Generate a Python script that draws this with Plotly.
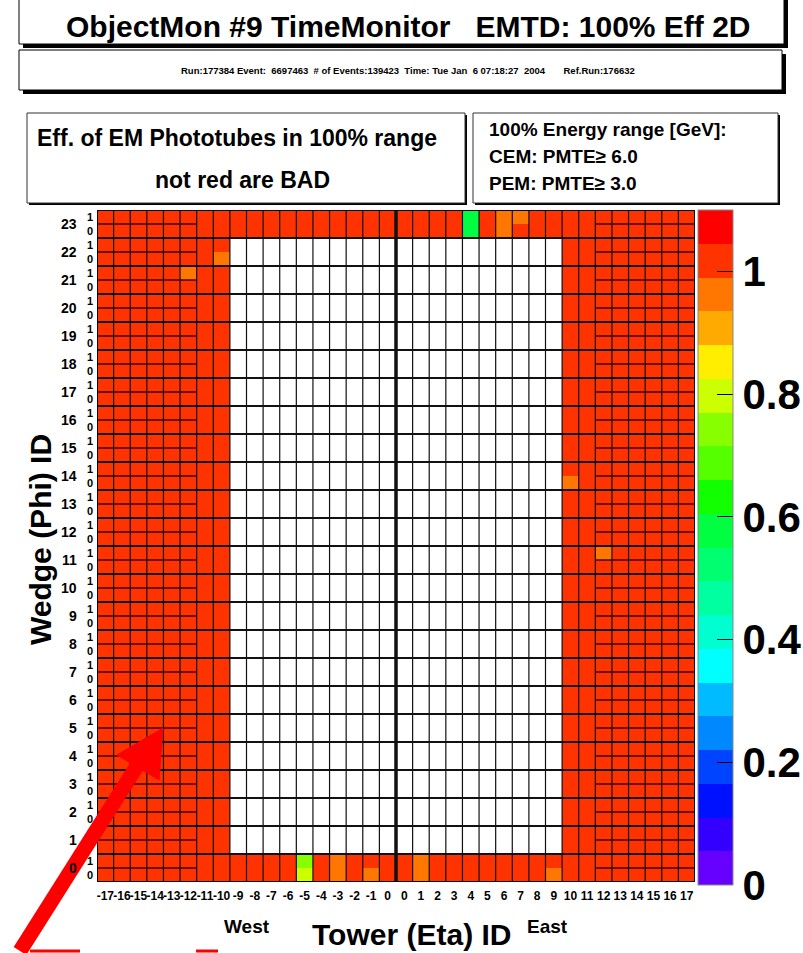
import plotly.graph_objects as go

# ---------------- data ----------------
towers_west = list(range(-17, 1))          # -17 .. 0
towers_east = list(range(0, 18))           # 0 .. 17
wedges = list(range(24))
halves = [0, 1]
plug_abs = [12, 13, 14, 15, 16, 17]        # towers with split half-rows drawn
empty_wedges = list(range(1, 23))          # wedges without central data
empty_abs = list(range(0, 10))             # |eta| 0..9 empty for those wedges
default_eff = 1.0
# (side, tower, wedge, half, efficiency)
bad_cells = [
    ("E", 4, 23, 1, 0.56), ("E", 4, 23, 0, 0.56),
    ("E", 6, 23, 1, 0.96), ("E", 6, 23, 0, 0.96),
    ("E", 7, 23, 1, 0.95),
    ("W", -10, 22, 0, 0.96),
    ("W", -12, 21, 1, 0.96),
    ("E", 10, 14, 0, 0.96),
    ("E", 12, 11, 1, 0.96),
    ("W", -5, 0, 1, 0.75), ("W", -5, 0, 0, 0.80),
    ("W", -3, 0, 1, 0.96), ("W", -3, 0, 0, 0.96),
    ("W", -1, 0, 0, 0.96),
    ("E", 1, 0, 1, 0.96), ("E", 1, 0, 0, 0.96),
    ("E", 9, 0, 0, 0.96),
]
palette = ["#6600FF", "#3300FF", "#0011FF", "#0044FF", "#0088FF", "#00BBFF",
           "#00FFFF", "#00FFD0", "#00FFA0", "#00FF70", "#00FF40", "#11FF00",
           "#55FF00", "#88FF00", "#CCFF00", "#FFEE00", "#FFAA00", "#FF7700",
           "#FF3300", "#FF0000"]
zmax = 1.1
cb_ticks = [0, 0.2, 0.4, 0.6, 0.8, 1.0]
cb_text = ["0", "0.2", "0.4", "0.6", "0.8", "1"]

# ---------------- build grid ----------------
columns = [("W", t) for t in towers_west] + [("E", t) for t in towers_east]
col_labels = [str(t) for _, t in columns]
ncol = len(columns)
rows = [(w, h) for w in wedges for h in halves]
nrow = len(rows)

z = []
for (w, h) in rows:
    line = []
    for (s, t) in columns:
        if w in empty_wedges and abs(t) in empty_abs:
            line.append(None)
        else:
            line.append(default_eff)
    z.append(line)
for (s, t, w, h, v) in bad_cells:
    z[rows.index((w, h))][columns.index((s, t))] = v

cs = []
n = len(palette)
for i, c in enumerate(palette):
    cs.append([i / n, c])
    cs.append([(i + 1) / n, c])

# ---------------- geometry (pixels) ----------------
W, H = 803, 953
L, R, T, B = 97, 695, 210, 882


def px(x):
    return (x - L) / (R - L)


def py(y):
    return (B - y) / (B - T)


FONT = "Liberation Sans, Arial, Helvetica, sans-serif"

fig = go.Figure()
fig.add_trace(go.Heatmap(
    z=z, x=list(range(ncol)), y=list(range(nrow)),
    colorscale=cs, zmin=0, zmax=zmax, hoverongaps=False,
    colorbar=dict(
        thickness=35, thicknessmode="pixels",
        len=675, lenmode="pixels", y=1.0, yanchor="top",
        x=px(698), xanchor="left", xpad=0, ypad=0,
        outlinecolor="#888888", outlinewidth=1,
        tickvals=cb_ticks, ticktext=cb_text, ticks="inside",
        ticklen=16, tickcolor="black", tickwidth=1,
        tickfont=dict(family=FONT, size=42, color="black", weight="bold"),
    ),
))

shapes = []
# vertical cell borders
for k in range(1, ncol):
    wdt = 3.5 if (columns[k][0] == "E" and columns[k - 1][0] == "W") else 1.2
    shapes.append(dict(type="line", xref="x", yref="y", x0=k - 0.5, x1=k - 0.5,
                       y0=-0.5, y1=nrow - 0.5, line=dict(color="#111111", width=wdt)))
# wedge borders
for w in wedges[1:]:
    yy = rows.index((w, 0)) - 0.5
    shapes.append(dict(type="line", xref="x", yref="y", x0=-0.5, x1=ncol - 0.5,
                       y0=yy, y1=yy, line=dict(color="#111111", width=2)))
# half-row borders for plug towers
for w in wedges:
    yy = rows.index((w, 1)) - 0.5
    for k, (s, t) in enumerate(columns):
        if abs(t) in plug_abs:
            shapes.append(dict(type="line", xref="x", yref="y", x0=k - 0.5, x1=k + 0.5,
                               y0=yy, y1=yy, line=dict(color="#3a0a00", width=1.5)))
# frame
shapes.append(dict(type="rect", xref="x", yref="y", x0=-0.5, x1=ncol - 0.5,
                   y0=-0.5, y1=nrow - 0.5, line=dict(color="black", width=2)))


def box(x0, y0, x1, y1, shadow, lw=1, color="black"):
    if shadow:
        shapes.append(dict(type="rect", xref="paper", yref="paper", x0=px(x0 + shadow), x1=px(x1 + shadow),
                           y0=py(y1 + shadow), y1=py(y0 + shadow), fillcolor="black",
                           line=dict(width=0), layer="below"))
    shapes.append(dict(type="rect", xref="paper", yref="paper", x0=px(x0), x1=px(x1),
                       y0=py(y1), y1=py(y0), fillcolor="white",
                       line=dict(color=color, width=lw), layer="below"))


box(19, -5, 784, 44, 4)
box(19, 50, 782, 90, 4)
box(27, 113, 465, 203, 2, color="#333333")
box(473, 113, 778, 203, 2, color="#333333")

# red arrow annotation drawn on the canvas
shapes.append(dict(type="line", xref="paper", yref="paper", x0=px(20), y0=py(951),
                   x1=px(142), y1=py(758), line=dict(color="#FF0000", width=15)))
shapes.append(dict(type="path", xref="paper", yref="paper",
                   path=f"M {px(163)} {py(728)} L {px(117)} {py(755)} L {px(159)} {py(780)} Z",
                   fillcolor="#FF0000", line=dict(color="#FF0000", width=1)))
shapes.append(dict(type="line", xref="paper", yref="paper", x0=px(30), y0=py(951),
                   x1=px(80), y1=py(951), line=dict(color="#FF0000", width=3)))
shapes.append(dict(type="line", xref="paper", yref="paper", x0=px(196), y0=py(951),
                   x1=px(218), y1=py(951), line=dict(color="#FF0000", width=3)))

ann = []


def text(x, y, s, size, xanchor="center", angle=0):
    ann.append(dict(xref="paper", yref="paper", x=px(x), y=py(y), text=s, showarrow=False,
                    xanchor=xanchor, yanchor="middle", textangle=angle,
                    font=dict(family=FONT, size=size, color="black", weight="bold")))


text(408, 26, "ObjectMon #9 TimeMonitor\u00a0\u00a0\u00a0EMTD: 100% Eff 2D", 30)
text(408, 70, "Run:177384 Event:\u00a0\u00a06697463\u00a0\u00a0# of Events:139423\u00a0\u00a0Time: Tue Jan\u00a0\u00a06 07:18:27\u00a0\u00a02004\u00a0\u00a0\u00a0\u00a0\u00a0\u00a0\u00a0Ref.Run:176632", 9.5)
text(237, 138, "Eff. of EM Phototubes in 100% range", 23)
text(242, 180, "not red are BAD", 23)
text(487, 129, "100% Energy range [GeV]:", 19, xanchor="left")
text(487, 157, "CEM: PMTE\u2265 6.0", 19, xanchor="left")
text(487, 184, "PEM: PMTE\u2265 3.0", 19, xanchor="left")
text(247, 926, "West", 19)
text(547, 926, "East", 19)
text(411, 934, "Tower (Eta) ID", 30)
text(40, 540, "Wedge (Phi) ID", 30, angle=-90)

for w in wedges:
    ann.append(dict(xref="paper", yref="y", x=px(79), y=rows.index((w, 0)) + 0.5,
                    text=str(w), showarrow=False, xanchor="right", yanchor="middle",
                    font=dict(family=FONT, size=14, color="black", weight="bold")))

fig.update_layout(
    width=W, height=H, margin=dict(l=L, r=W - R, t=T, b=H - B, autoexpand=False),
    paper_bgcolor="white", plot_bgcolor="white",
    shapes=shapes, annotations=ann, showlegend=False,
    xaxis=dict(range=[-0.5, ncol - 0.5], tickvals=list(range(ncol)), ticktext=col_labels,
               showgrid=False, zeroline=False, ticks="", ticklabelstandoff=5,
               tickangle=0,
               tickfont=dict(family=FONT, size=12, color="black", weight="bold")),
    yaxis=dict(range=[-0.5, nrow - 0.5], tickvals=list(range(nrow)),
               ticktext=[str(h) for (_, h) in rows], showgrid=False, zeroline=False,
               ticks="", ticklabelstandoff=3,
               tickfont=dict(family=FONT, size=11, color="black", weight="bold")),
)

fig.write_html("out.html")
